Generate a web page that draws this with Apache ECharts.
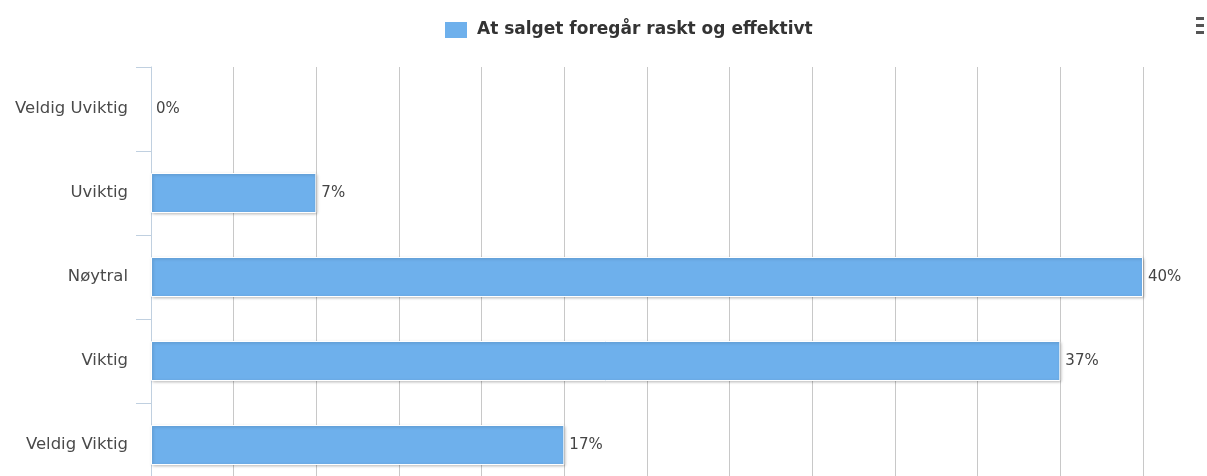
<!DOCTYPE html>
<html>
<head>
<meta charset="utf-8">
<script src="https://cdn.jsdelivr.net/npm/echarts@6/dist/echarts.min.js"></script>
<style>
html,body{margin:0;padding:0;background:#fff;}
#chart{width:1207px;height:476px;}
</style>
</head>
<body>
<div id="chart"></div>
<script>
const categories = ['Veldig Uviktig', 'Uviktig', 'Nøytral', 'Viktig', 'Veldig Viktig'];
const seriesName = 'At salget foregår raskt og effektivt';
const counts = [0, 2, 12, 11, 5];
const percentLabels = ['0%', '7%', '40%', '37%', '17%'];

const FONT = '"DejaVu Sans", "Lucida Grande", sans-serif';
const chart = echarts.init(document.getElementById('chart'), null, {renderer: 'canvas'});
chart.setOption({
  animation: false,
  textStyle: {fontFamily: FONT},
  legend: {
    top: 20,
    left: 443,
    padding: 0,
    itemWidth: 24,
    itemHeight: 18,
    itemGap: 8,
    icon: 'rect',
    textStyle: {fontFamily: FONT, fontSize: 17, fontWeight: 'bold', color: '#333', padding: [2, 0, 0, 4]},
    data: [seriesName]
  },
  graphic: [
    {type: 'rect', right: 3, top: 17, shape: {width: 8, height: 3}, style: {fill: '#555'}},
    {type: 'rect', right: 3, top: 24, shape: {width: 8, height: 3}, style: {fill: '#555'}},
    {type: 'rect', right: 3, top: 31, shape: {width: 8, height: 3}, style: {fill: '#555'}}
  ],
  grid: {left: 151, right: 64, top: 67, height: 420, containLabel: false, outerBoundsMode: 'none'},
  xAxis: {
    type: 'value',
    min: 0,
    max: 12,
    interval: 1,
    axisLine: {show: false},
    axisTick: {show: false},
    axisLabel: {show: false},
    splitLine: {show: true, lineStyle: {color: '#c8c8c8', width: 1}}
  },
  yAxis: {
    type: 'category',
    inverse: true,
    data: categories,
    axisLine: {show: true, lineStyle: {color: '#c0d0e0', width: 1}},
    axisTick: {show: true, length: 15, inside: false, lineStyle: {color: '#c0d0e0'}},
    axisLabel: {margin: 23, fontFamily: FONT, fontSize: 16.5, color: '#4a4a4a'},
    splitLine: {show: false}
  },
  series: [{
    name: seriesName,
    type: 'bar',
    data: counts.map(v => v === 0 ? {value: v, itemStyle: {shadowBlur: 0, shadowOffsetX: 0, shadowOffsetY: 0, borderWidth: 0}} : v),
    barWidth: 40,
    itemStyle: {
      color: '#6eb0ec',
      borderColor: '#ffffff',
      borderWidth: 1,
      shadowColor: 'rgba(0,0,0,0.25)',
      shadowBlur: 3,
      shadowOffsetX: 1,
      shadowOffsetY: 1
    },
    label: {
      show: true,
      position: 'right',
      distance: 5,
      fontFamily: FONT,
      fontSize: 15,
      color: '#444',
      formatter: p => percentLabels[p.dataIndex]
    }
  }]
});
</script>
</body>
</html>
